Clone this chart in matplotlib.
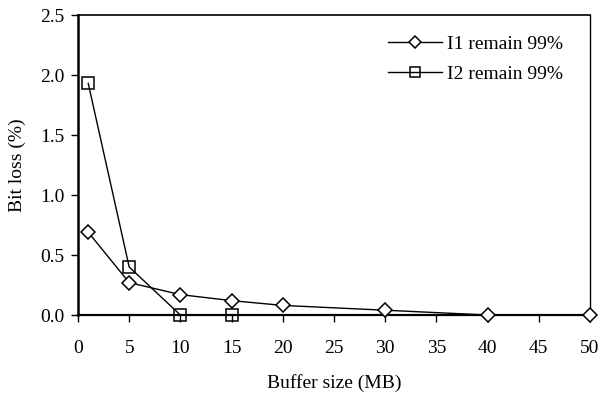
import matplotlib
matplotlib.use("Agg")
import matplotlib.pyplot as plt

plt.rcParams['font.family'] = ['Liberation Serif', 'DejaVu Serif']

x_i1 = [1, 5, 10, 15, 20, 30, 40, 50]
y_i1 = [0.69, 0.27, 0.17, 0.12, 0.08, 0.04, 0.0, 0.0]
x_i2 = [1, 5, 10, 15]
y_i2 = [1.93, 0.40, 0.0, 0.0]
labels = ["I1 remain 99%", "I2 remain 99%"]

fig = plt.figure(figsize=(6, 3.97), dpi=100)
ax = fig.add_axes([0.13, 0.2065, 0.8533, 0.7557])

ax.plot(x_i1, y_i1, color='black', lw=1.0, marker='D', markersize=7,
        markerfacecolor='white', markeredgecolor='black', markeredgewidth=1.1,
        label=labels[0], clip_on=False, zorder=3)
ax.plot(x_i2, y_i2, color='black', lw=1.0, marker='s', markersize=9,
        markerfacecolor='none', markeredgecolor='black', markeredgewidth=1.1,
        label=labels[1], clip_on=False, zorder=3)

ax.set_xlim(0, 50)
ax.set_ylim(0, 2.5)
ax.set_xticks(range(0, 51, 5))
yt = [0, 0.5, 1.0, 1.5, 2.0, 2.5]
ax.set_yticks(yt)
ax.set_yticklabels([f"{v:.1f}" for v in yt])
ax.tick_params(axis='both', direction='out', length=5, width=1.0, labelsize=14)
ax.tick_params(axis='x', pad=13)
ax.tick_params(axis='y', pad=5)
ax.spines['top'].set_linewidth(1.2)
ax.spines['right'].set_linewidth(1.0)
ax.spines['left'].set_linewidth(1.8)
ax.spines['bottom'].set_linewidth(1.6)

ax.set_xlabel("Buffer size (MB)", fontsize=14, labelpad=12)
ax.set_ylabel("Bit loss (%)", fontsize=14, labelpad=10)

ax.legend(loc='upper right', frameon=False, fontsize=14, handlelength=2.8,
          handletextpad=0.25, bbox_to_anchor=(0.97, 0.97), labelspacing=0.6,
          borderaxespad=0.2, markerscale=0.85)

fig.savefig("out.png", dpi=100)
